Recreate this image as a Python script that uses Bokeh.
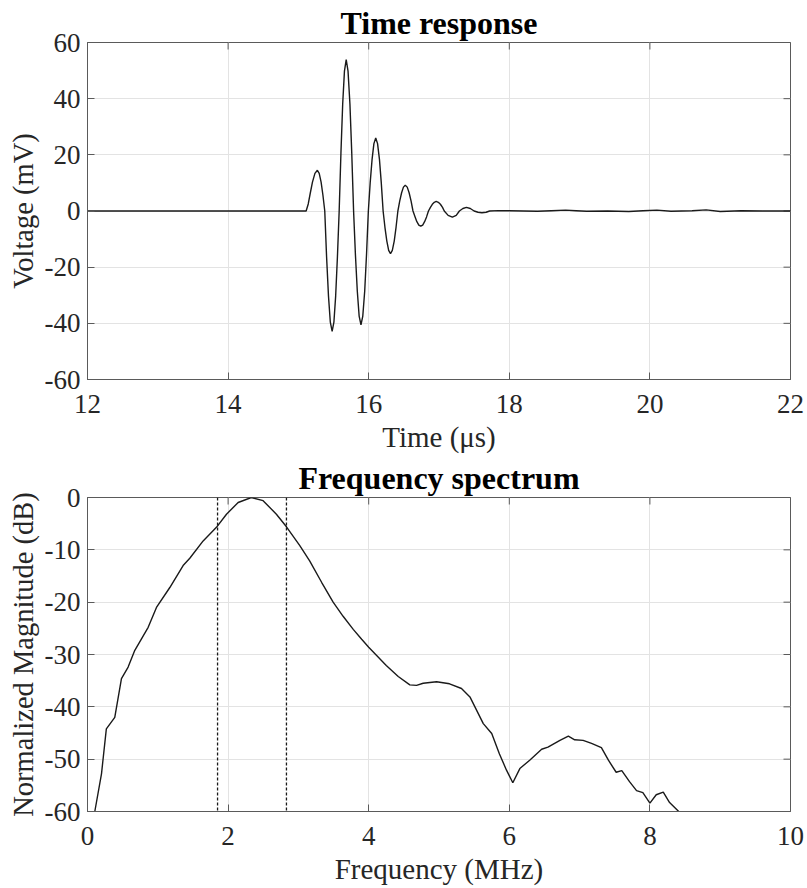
import math
from bokeh.plotting import figure
from bokeh.models import Range1d, FixedTicker, Span
from bokeh.layouts import column
from bokeh.embed import file_html
from bokeh.resources import INLINE

# ---------------- data ----------------
time_us = [12.00, 15.11, 15.14, 15.17, 15.20, 15.235, 15.27,
           15.296, 15.323, 15.349, 15.375, 15.401, 15.428, 15.454, 15.48,
           15.505, 15.53, 15.555, 15.58, 15.605, 15.63, 15.655, 15.68,
           15.706, 15.733, 15.759, 15.785, 15.811, 15.838, 15.864, 15.89,
           15.916, 15.943, 15.969, 15.995, 16.021, 16.048, 16.074, 16.10,
           16.126, 16.153, 16.179, 16.205, 16.231, 16.258, 16.284, 16.31,
           16.336, 16.363, 16.389, 16.415, 16.441, 16.468, 16.494, 16.52,
           16.548, 16.575, 16.603, 16.63, 16.66, 16.685, 16.713, 16.74,
           16.768, 16.795, 16.823, 16.85, 16.878, 16.905, 16.933, 16.96,
           16.99, 17.02, 17.05, 17.075, 17.13, 17.19, 17.245, 17.29,
           17.34, 17.39, 17.445, 17.50, 17.555, 17.61, 17.67, 17.72,
           17.85, 18.00, 18.20, 18.40, 18.60, 18.80, 18.95, 19.10,
           19.40, 19.70, 19.90, 20.10, 20.30, 20.60, 20.80, 21.00,
           21.30, 21.60, 22.00]
voltage_mv = [0.0, 0.0, 2.5, 6.5, 10.3, 13.4, 14.5,
              13.4, 10.3, 5.6, 0.0, -16.4, -30.3, -39.6, -42.9,
              -39.6, -30.3, -16.4, 0.0, 20.6, 38.1, 49.8, 53.9,
              49.8, 38.1, 20.6, 0.0, -15.5, -28.6, -37.4, -40.5,
              -37.4, -28.6, -15.5, 0.0, 10.0, 18.4, 24.0, 26.0,
              24.0, 18.4, 10.0, 0.0, -5.8, -10.7, -14.0, -15.2,
              -14.0, -10.7, -5.8, 0.0, 3.5, 6.5, 8.5, 9.2,
              8.5, 6.5, 3.5, 0.0, -2.1, -3.8, -5.0, -5.4,
              -5.0, -3.8, -2.1, 0.0, 1.3, 2.4, 3.1, 3.4,
              3.1, 2.4, 1.3, 0.0, -1.55, -2.2, -1.55, 0.0,
              0.9, 1.3, 0.9, 0.0, -0.45, -0.6, -0.45, 0.0,
              0.15, 0.1, 0.0, -0.1, 0.1, 0.3, 0.1, -0.1,
              0.0, -0.2, 0.1, 0.3, -0.1, 0.1, 0.4, -0.2,
              0.1, 0.0, 0.0]

freq_mhz = [0.104, 0.199, 0.268, 0.388, 0.483, 0.578, 0.673, 0.863, 0.981,
            1.171, 1.36, 1.455, 1.645, 1.834, 1.977, 2.143, 2.33, 2.498,
            2.687, 2.83, 3.02, 3.16, 3.33, 3.494, 3.636, 3.78, 3.90, 4.00,
            4.25, 4.42, 4.585, 4.68, 4.775, 4.965, 5.15, 5.32, 5.44,
            5.63, 5.75, 5.86, 5.96, 6.05,
            6.15, 6.29, 6.46, 6.55, 6.72, 6.84, 6.93, 7.05, 7.17, 7.31,
            7.41, 7.52, 7.60, 7.71, 7.81, 7.90, 8.00, 8.09, 8.19, 8.28, 8.41]
magnitude_db = [-60.0, -52.8, -44.2, -42.0, -34.6, -32.4, -29.2, -24.8, -21.0,
                -17.2, -13.0, -11.6, -8.3, -5.7, -3.2, -0.95, 0.0, -0.6,
                -3.2, -5.6, -9.2, -12.1, -16.2, -20.0, -22.7, -25.2, -27.1, -28.6,
                -32.1, -34.2, -35.8, -35.9, -35.5, -35.2, -35.6, -36.5, -38.1,
                -43.2, -45.1, -49.0, -52.1, -54.5,
                -51.8, -50.2, -48.1, -47.7, -46.4, -45.6, -46.3, -46.4, -47.0, -47.8,
                -50.2, -52.5, -52.2, -54.3, -56.0, -56.4, -58.4, -56.8, -56.3, -58.3, -60.0]

band_edges_mhz = [1.85, 2.83]

time_ticks = [12, 14, 16, 18, 20, 22]
volt_ticks = [-60, -40, -20, 0, 20, 40, 60]
freq_ticks = [0, 2, 4, 6, 8, 10]
db_ticks = [-60, -50, -40, -30, -20, -10, 0]

# ---------------- style ----------------
FONT = "Liberation Serif"
TXT = "#262626"
AXC = "#5a5a5a"
GRID = "#e3e3e3"


def make_fig(xr, yr, xt, yt, title, xlabel, ylabel, height, top, bottom):
    p = figure(width=807, height=height,
               x_range=Range1d(xr[0], xr[1]), y_range=Range1d(yr[0], yr[1]),
               output_backend="svg", toolbar_location=None,
               min_border_left=87, min_border_right=17,
               min_border_top=top, min_border_bottom=bottom)
    p.background_fill_color = "white"
    p.border_fill_color = "white"
    p.outline_line_color = AXC
    p.outline_line_width = 1

    p.title.text = title
    p.title.text_font = FONT
    p.title.text_font_size = "32px"
    p.title.text_font_style = "bold"
    p.title.text_color = "black"
    p.title.align = "center"
    p.title.standoff = 4

    for ax, ticks, lab in ((p.xaxis[0], xt, xlabel), (p.yaxis[0], yt, ylabel)):
        ax.ticker = FixedTicker(ticks=ticks)
        ax.major_label_overrides = {t: str(t) for t in ticks}
        ax.axis_label = lab
        ax.axis_label_text_font = FONT
        ax.axis_label_text_font_style = "normal"
        ax.axis_label_text_color = TXT
        ax.major_label_text_font = FONT
        ax.major_label_text_font_size = "27px"
        ax.major_label_text_color = TXT
        ax.axis_line_color = AXC
        ax.major_tick_line_color = AXC
        ax.major_tick_in = 7
        ax.major_tick_out = 0
        ax.minor_tick_line_color = None
    p.xaxis[0].axis_label_text_font_size = "29px"
    p.yaxis[0].axis_label_text_font_size = "28.5px"
    p.xaxis[0].major_label_standoff = 15
    p.xaxis[0].axis_label_standoff = 5
    p.yaxis[0].major_label_standoff = 7
    p.yaxis[0].axis_label_standoff = 3

    # inward ticks on the top and right edges of the box
    p.scatter(xt, [yr[1]] * len(xt), marker="dash", size=14, angle=math.pi / 2,
              line_color=AXC, line_width=1)
    p.scatter([xr[1]] * len(yt), yt, marker="dash", size=14,
              line_color=AXC, line_width=1)

    p.xgrid.grid_line_color = GRID
    p.ygrid.grid_line_color = GRID
    p.xgrid.grid_line_width = 1
    p.ygrid.grid_line_width = 1
    return p


p1 = make_fig((12, 22), (-60, 60), time_ticks, volt_ticks,
              "Time response", "Time (μs)", "Voltage (mV)", 455, 41, 75)
p1.line(time_us, voltage_mv, line_color="#1a1a1a", line_width=1.4)

p2 = make_fig((0, 10), (-60, 0), freq_ticks, db_ticks,
              "Frequency spectrum", "Frequency (MHz)", "Normalized Magnitude (dB)",
              433, 42, 77)
p2.line(freq_mhz, magnitude_db, line_color="#1a1a1a", line_width=1.4)
for f in band_edges_mhz:
    p2.add_layout(Span(location=f, dimension="height", line_color="#1a1a1a",
                       line_width=1.3, line_dash="3 2"))

layout = column(p1, p2, spacing=0)
open("out.html", "w").write(file_html(layout, INLINE))
